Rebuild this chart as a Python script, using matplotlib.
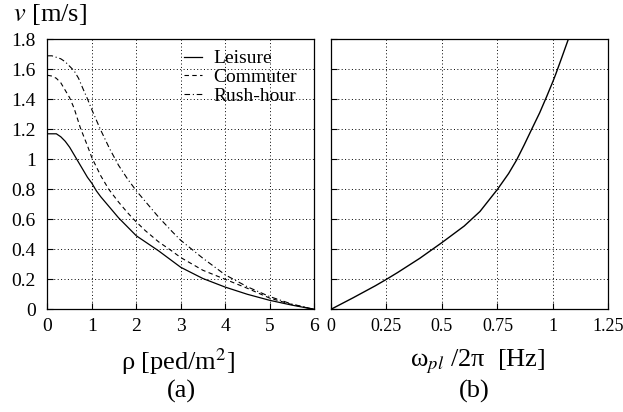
import numpy as np
import matplotlib.pyplot as plt

# (a) walking speed vs. crowd density
rho_l = [0, 0.1, 0.2, 0.3, 0.4, 0.5, 0.6, 0.7, 0.8, 0.9, 1.0, 1.1, 1.2, 1.4,
         1.6, 1.8, 2.0, 2.2, 2.5, 3.0, 3.5, 4.0, 4.5, 5.0, 5.5, 6.0]
v_leisure = [1.17, 1.17, 1.17, 1.15, 1.12, 1.08, 1.03, 0.98, 0.93, 0.88, 0.84,
             0.79, 0.75, 0.68, 0.61, 0.55, 0.49, 0.45, 0.39, 0.28, 0.205, 0.148,
             0.10, 0.06, 0.028, 0.0]

rho_c = [0, 0.1, 0.2, 0.3, 0.4, 0.5, 0.6, 0.74, 0.9, 1.0, 1.2, 1.38, 1.6, 1.8,
         1.94, 2.2, 2.5, 2.77, 3.0, 3.5, 4.0, 4.5, 5.0, 5.5, 6.0]
v_commuter = [1.56, 1.555, 1.54, 1.51, 1.46, 1.41, 1.34, 1.21, 1.09, 1.01, 0.89,
              0.8, 0.715, 0.645, 0.6, 0.525, 0.45, 0.395, 0.345, 0.26, 0.2, 0.14,
              0.075, 0.032, 0.0]

rho_r = [0, 0.1, 0.2, 0.3, 0.4, 0.5, 0.6, 0.7, 0.8, 0.89, 1.0, 1.19, 1.4, 1.6,
         1.8, 2.0, 2.2, 2.5, 2.8, 3.0, 3.5, 4.0, 4.5, 5.0, 5.5, 6.0]
v_rush = [1.69, 1.69, 1.68, 1.67, 1.65, 1.62, 1.59, 1.54, 1.47, 1.41, 1.33, 1.2,
          1.07, 0.96, 0.87, 0.79, 0.72, 0.615, 0.52, 0.46, 0.34, 0.23, 0.15,
          0.085, 0.035, 0.0]

# (b) walking speed vs. pacing frequency
freq = [0, 0.1, 0.2, 0.25, 0.3, 0.4, 0.5, 0.6, 0.671, 0.75, 0.8, 0.836, 0.87,
        0.904, 0.94, 0.972, 1.0, 1.013, 1.04, 1.069]
v_freq = [0, 0.077, 0.157, 0.2, 0.245, 0.34, 0.445, 0.555, 0.652, 0.8, 0.905,
          0.995, 1.095, 1.2, 1.31, 1.42, 1.52, 1.57, 1.68, 1.8]

plt.rcParams['font.family'] = ['Liberation Serif', 'DejaVu Serif']
plt.rcParams['mathtext.fontset'] = 'stix'

fig = plt.figure(figsize=(6.23, 4.12), dpi=100)
ax1 = fig.add_axes([0.0762, 0.2493, 0.4278, 0.6553])
ax2 = fig.add_axes([0.5313, 0.2493, 0.4454, 0.6553])

ax1.plot(rho_l, v_leisure, 'k-', lw=0.9, label='Leisure')
ax1.plot(rho_c, v_commuter, 'k--', lw=0.8, dashes=(4, 3), label='Commuter')
ax1.plot(rho_r, v_rush, 'k-.', lw=0.8, dashes=(5, 2.5, 1, 2.5), label='Rush-hour')
ax2.plot(freq, v_freq, 'k-', lw=1.0)

fmt = plt.FuncFormatter(lambda x, p: '%g' % x)
for ax in (ax1, ax2):
    ax.set_ylim(0, 1.8)
    ax.set_yticks(np.arange(0, 1.81, 0.2))
    ax.grid(True, color='black', linestyle=(0, (1, 2.5)), lw=0.7)
    ax.tick_params(direction='in', length=4, labelsize=14, width=0.8)
    ax.tick_params(axis='x', pad=6)
    ax.tick_params(axis='y', pad=8.5)
    ax.yaxis.set_major_formatter(fmt)
    ax.xaxis.set_major_formatter(fmt)
    for s in ax.spines.values():
        s.set_linewidth(0.9)

ax1.set_xlim(0, 6)
ax1.set_xticks(range(7))
ax2.set_xlim(0, 1.25)
ax2.set_xticks([0, 0.25, 0.5, 0.75, 1, 1.25])
ax2.tick_params(labelleft=False)
ax2.tick_params(axis='x', labelsize=13)

ax1.legend(loc='upper right', bbox_to_anchor=(0.966, 0.99), frameon=False,
           fontsize=14, handlelength=0.9, handletextpad=0.6, labelspacing=0.05,
           borderaxespad=0.0)

fig.text(0.021, 0.966, r'$v$ [m/s]', fontsize=19, va='center', ha='left')
fig.text(0.2857, 0.121, r'ρ [ped/m$^2$]', fontsize=19, ha='center', va='center')
fig.text(0.292, 0.049, '(a)', fontsize=19, ha='center', va='center')
fig.text(0.767, 0.121, r'ω$_{pl}$ /2π  [Hz]', fontsize=19, ha='center', va='center')
fig.text(0.762, 0.049, '(b)', fontsize=19, ha='center', va='center')

fig.savefig('out.png', dpi=100)
